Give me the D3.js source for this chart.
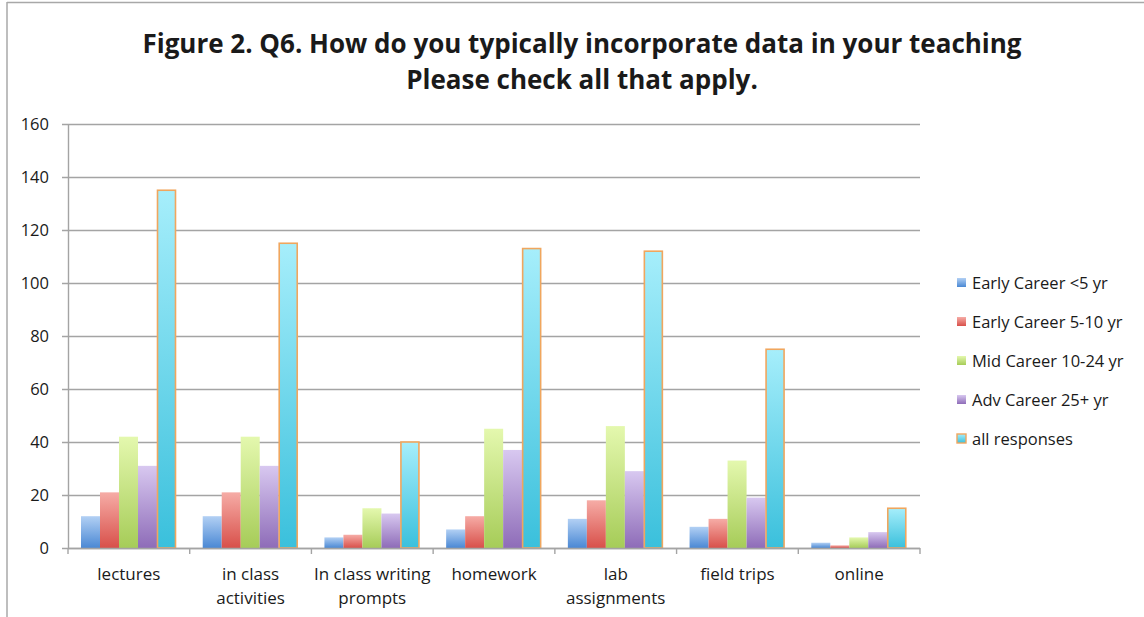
<!DOCTYPE html>
<html>
<head>
<meta charset="utf-8">
<script src="https://cdn.jsdelivr.net/npm/d3@7"></script>
<style>
  html, body { margin: 0; padding: 0; background: #fff; }
  svg { display: block; }
  text { font-family: "Open Sans", "Noto Sans", sans-serif; fill: #1a1a1a; }
</style>
</head>
<body>
<svg id="chart" width="1144" height="617"></svg>
<script>
// Survey responses: how data is incorporated in teaching, by career stage
const categories = [
  ["lectures"],
  ["in class", "activities"],
  ["In class writing", "prompts"],
  ["homework"],
  ["lab", "assignments"],
  ["field trips"],
  ["online"]
];
const seriesNames = [
  "Early Career <5 yr",
  "Early Career 5-10 yr",
  "Mid Career 10-24 yr",
  "Adv Career 25+ yr",
  "all responses"
];
const earlyLt5   = [12, 12, 4, 7, 11, 8, 2];
const early5to10 = [21, 21, 5, 12, 18, 11, 1];
const mid10to24  = [42, 42, 15, 45, 46, 33, 4];
const adv25plus  = [31, 31, 13, 37, 29, 19, 6];
const allResp    = [135, 115, 40, 113, 112, 75, 15];
const yTicks = [0, 20, 40, 60, 80, 100, 120, 140, 160];

const seriesValues = [earlyLt5, early5to10, mid10to24, adv25plus, allResp];
const gradients = [
  { top: "#b2d0f4", bottom: "#4a88d4" },
  { top: "#f6aca6", bottom: "#d8504a" },
  { top: "#e4f8ae", bottom: "#a6cc58" },
  { top: "#d8c8f0", bottom: "#8e6cb8" },
  { top: "#a6eefb", bottom: "#3ac0dc" }
];

const svg = d3.select("#chart");
const margin = { left: 68, right: 920, top: 124, bottom: 548 };

// frame
svg.append("line").attr("x1", 7).attr("x2", 1144).attr("y1", 2.5).attr("y2", 2.5)
  .attr("stroke", "#a8a8a8").attr("stroke-width", 1.5);
svg.append("line").attr("x1", 7).attr("x2", 7).attr("y1", 2).attr("y2", 617)
  .attr("stroke", "#a8a8a8").attr("stroke-width", 1.5);

const defs = svg.append("defs");
gradients.forEach((g, i) => {
  const lg = defs.append("linearGradient").attr("id", "grad" + i)
    .attr("x1", 0).attr("x2", 0).attr("y1", 0).attr("y2", 1);
  lg.append("stop").attr("offset", "0%").attr("stop-color", g.top);
  lg.append("stop").attr("offset", "100%").attr("stop-color", g.bottom);
});

const x0 = d3.scaleBand().domain(d3.range(categories.length))
  .range([margin.left, margin.right]).paddingInner(0).paddingOuter(0);
const x1 = d3.scaleBand().domain(d3.range(seriesNames.length))
  .range([13, 13 + 95]);
const y = d3.scaleLinear().domain([0, 160]).range([margin.bottom, margin.top]);

// gridlines
svg.append("g").selectAll("line").data(yTicks).join("line")
  .attr("x1", margin.left - 6).attr("x2", margin.right)
  .attr("y1", d => y(d) + 0.5).attr("y2", d => y(d) + 0.5)
  .attr("stroke", "#a4a4a4").attr("stroke-width", 1.4);

// y axis
const yAxis = d3.axisLeft(y).tickValues(yTicks).tickSize(0).tickPadding(19);
const gy = svg.append("g").attr("transform", `translate(${margin.left},0)`).call(yAxis);
gy.select(".domain").attr("stroke", "#a4a4a4").attr("stroke-width", 1.4);
gy.selectAll("text").style("font-size", "16.5px").attr("fill", "#1a1a1a")
  .attr("font-family", "Open Sans, sans-serif");

// bars
const groups = svg.append("g").selectAll("g").data(categories).join("g")
  .attr("transform", (d, i) => `translate(${x0(i)},0)`);
groups.each(function(_, ci) {
  d3.select(this).selectAll("rect").data(seriesValues.map((s, si) => ({ si, v: s[ci] })))
    .join("rect")
    .attr("x", d => x1(d.si) + (d.si === 4 ? 0.5 : 0))
    .attr("width", d => x1.bandwidth() - (d.si === 4 ? 1 : 0))
    .attr("y", d => y(d.v))
    .attr("height", d => y(0) - y(d.v))
    .attr("fill", d => `url(#grad${d.si})`)
    .attr("stroke", d => d.si === 4 ? "#f0a65e" : "none")
    .attr("stroke-width", 1.6);
});

// x axis
const xAxisG = svg.append("g");
xAxisG.append("line").attr("x1", margin.left).attr("x2", margin.right)
  .attr("y1", margin.bottom + 0.5).attr("y2", margin.bottom + 0.5)
  .attr("stroke", "#a4a4a4").attr("stroke-width", 1.4);
const tickXs = d3.range(categories.length + 1).map(i =>
  i < categories.length ? x0(i) : margin.right);
xAxisG.selectAll("line.tick").data(tickXs).join("line").attr("class", "tick")
  .attr("x1", d => d).attr("x2", d => d)
  .attr("y1", margin.bottom).attr("y2", margin.bottom + 6)
  .attr("stroke", "#a4a4a4").attr("stroke-width", 1.4);

const labels = svg.append("g").selectAll("text").data(categories).join("text")
  .attr("text-anchor", "middle")
  .attr("x", (d, i) => x0(i) + x0.bandwidth() / 2)
  .attr("y", 580)
  .style("font-size", "17px");
labels.selectAll("tspan").data(d => d).join("tspan")
  .attr("x", function() { return d3.select(this.parentNode).attr("x"); })
  .attr("dy", (d, i) => i === 0 ? 0 : 24)
  .text(d => d);

// title
svg.append("text").attr("x", 582).attr("y", 53).attr("text-anchor", "middle")
  .style("font-size", "26px").style("font-weight", "bold")
  .text("Figure 2. Q6. How do you typically incorporate data in your teaching");
svg.append("text").attr("x", 582).attr("y", 89).attr("text-anchor", "middle")
  .style("font-size", "26px").style("font-weight", "bold")
  .text("Please check all that apply.");

// legend
const legend = svg.append("g").selectAll("g").data(seriesNames).join("g")
  .attr("transform", (d, i) => `translate(957, ${283 + i * 39})`);
legend.append("rect").attr("x", 0).attr("y", -5).attr("width", 9).attr("height", 9)
  .attr("fill", (d, i) => `url(#grad${i})`)
  .attr("stroke", (d, i) => i === 4 ? "#f0a65e" : "none").attr("stroke-width", 1.4);
legend.append("text").attr("x", 15).attr("y", 6).style("font-size", "16.5px")
  .text(d => d);
</script>
</body>
</html>
